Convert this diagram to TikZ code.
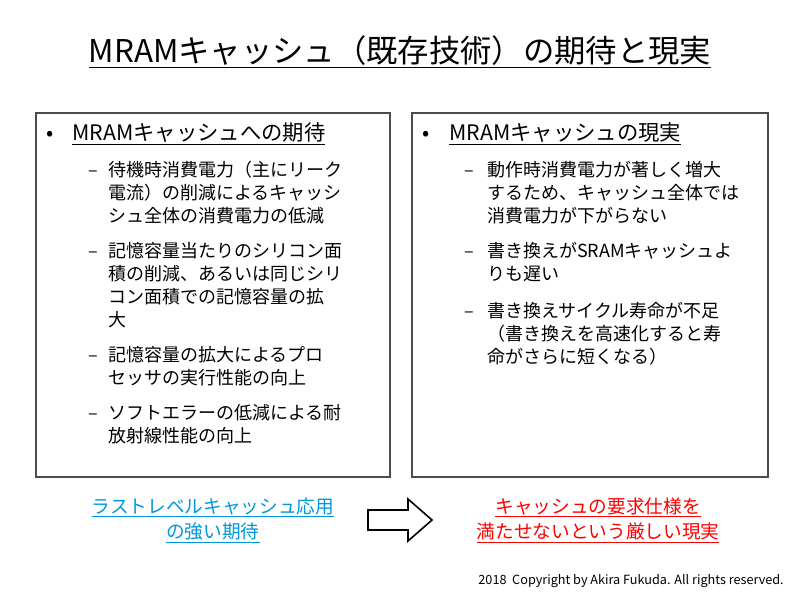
\documentclass[tikz,border=0pt]{standalone}
\usepackage{fontspec}
\setmainfont{Noto Sans CJK JP}
\definecolor{myblue}{RGB}{0,150,220}
\begin{document}
\begin{tikzpicture}[x=0.75pt,y=-0.75pt,
  ln/.style={anchor=base west,inner sep=0pt,font=\fontsize{13.5pt}{16pt}\selectfont},
  hd/.style={anchor=base west,inner sep=0pt,font=\fontsize{16pt}{18pt}\selectfont},
  bx/.style={draw=black!70,line width=0.8pt}]
\useasboundingbox (0,0) rectangle (800,600);
\node (title) at (400,52) {\fontsize{23.5pt}{26pt}\selectfont\underline{MRAMキャッシュ（既存技術）の期待と現実}};
\draw[bx] (36,113) rectangle (390,477);
\draw[bx] (412,113) rectangle (768,477);
% left
\node[hd] (lb) at (46,140) {•};
\node[hd] (lh) at (72,140) {\underline{MRAMキャッシュへの期待}};
\foreach \y/\t in {176/待機時消費電力（主にリーク, 199/電流）の削減によるキャッシ, 222/シュ全体の消費電力の低減,
  257/記憶容量当たりのシリコン面, 280/積の削減、あるいは同じシリ, 303/コン面積での記憶容量の拡, 326/大,
  361/記憶容量の拡大によるプロ, 384/セッサの実行性能の向上,
  419/ソフトエラーの低減による耐, 442/放射線性能の向上}
  \node[ln] at (108,\y) {\t};
\foreach \y in {176,257,361,419} \node[ln] at (88,\y) {–};
% right
\node[hd] (rb) at (422,140) {•};
\node[hd] (rh) at (449,140) {\underline{MRAMキャッシュの現実}};
\foreach \y/\t in {176/動作時消費電力が著しく増大, 199/するため、キャッシュ全体では, 222/消費電力が下がらない,
  257/書き換えがSRAMキャッシュよ, 280/りも遅い,
  317/書き換えサイクル寿命が不足, 340/（書き換えを高速化すると寿, 363/命がさらに短くなる）}
  \node[ln] at (487,\y) {\t};
\foreach \y in {176,257,317} \node[ln] at (464,\y) {–};
% bottom
\node[align=center,text=myblue,font=\fontsize{14pt}{19pt}\selectfont] (bl) at (213,520)
  {\underline{ラストレベルキャッシュ応用}\\\underline{の強い期待}};
\node[align=center,text=red,font=\fontsize{14pt}{19pt}\selectfont] (br) at (598,520)
  {\underline{キャッシュの要求仕様を}\\\underline{満たせないという厳しい現実}};
\draw[line width=1.2pt,fill=white] (368,510) -- (408,510) -- (408,499) -- (432,520) -- (408,541) -- (408,530) -- (368,530) -- cycle;
\node[anchor=base east,inner sep=0pt,font=\fontsize{9.5pt}{11pt}\selectfont] (cp) at (784,584)
  {2018\ \ Copyright by Akira Fukuda. All rights reserved.};
\end{tikzpicture}
\end{document}
